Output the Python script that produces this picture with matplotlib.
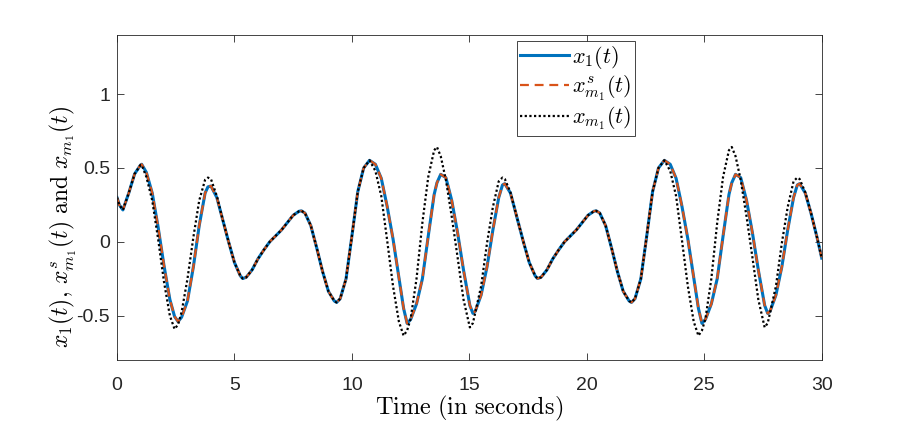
#!/usr/bin/env python3
"""Recreate the x1 / x_m1 tracking response chart."""

import matplotlib.pyplot as plt

# time samples (s)
T = [0.0, 0.1, 0.25, 0.5, 0.75, 1.0, 1.05, 1.25, 1.5, 1.75, 2.0, 2.25, 2.45, 2.6, 2.75,
     3.0, 3.25, 3.5, 3.75, 3.87, 4.0, 4.25, 4.5, 4.75, 5.0, 5.25, 5.35, 5.5, 5.75,
     6.0, 6.25, 6.5, 6.75, 7.0, 7.25, 7.5, 7.75, 7.85, 8.0, 8.25, 8.5, 8.75, 9.0,
     9.25, 9.35, 9.5, 9.75, 10.0, 10.25, 10.5, 10.75, 11.0, 11.25, 11.5, 11.75,
     12.0, 12.2, 12.35, 12.5, 12.75, 13.0, 13.25, 13.5, 13.62, 13.78, 14.0, 14.25,
     14.5, 14.75, 15.02, 15.15, 15.25, 15.5, 15.75, 16.0, 16.25, 16.41, 16.51, 16.75,
     17.05, 17.3, 17.55, 17.8, 17.9, 18.05, 18.3, 18.55, 18.8, 19.05, 19.3, 19.55,
     19.8, 20.05, 20.3, 20.4, 20.55, 20.8, 21.05, 21.3, 21.55, 21.8, 21.9, 22.05,
     22.3, 22.55, 22.8, 23.05, 23.3, 23.55, 23.8, 24.05, 24.3, 24.55, 24.75, 24.9,
     25.05, 25.3, 25.55, 25.8, 26.05, 26.17, 26.33, 26.55, 26.8, 27.05, 27.3, 27.57,
     27.7, 27.8, 28.05, 28.3, 28.55, 28.8, 28.96, 29.06, 29.3, 29.55, 29.8, 30.0]

# x1(t), solid blue
X1 = [0.30, 0.25, 0.216, 0.33, 0.46, 0.52, 0.525, 0.47, 0.33, 0.10, -0.16, -0.39, -0.505, -0.54, -0.51,
      -0.40, -0.17, 0.11, 0.33, 0.372, 0.378, 0.30, 0.15, 0.0, -0.14, -0.23, -0.248, -0.24, -0.19,
      -0.115, -0.055, 0.0, 0.04, 0.08, 0.13, 0.18, 0.207, 0.21, 0.195, 0.11, -0.04, -0.20, -0.335,
      -0.40, -0.41, -0.385, -0.25, 0.04, 0.34, 0.50, 0.552, 0.525, 0.43, 0.24, 0.02,
      -0.24, -0.45, -0.552, -0.525, -0.42, -0.25, 0.04, 0.32, 0.40, 0.457, 0.435, 0.28,
      0.06, -0.19, -0.43, -0.484, -0.47, -0.36, -0.17, 0.08, 0.30, 0.385, 0.394, 0.33,
      0.15, 0.0, -0.14, -0.23, -0.248, -0.24, -0.19, -0.115, -0.055, 0.0, 0.04, 0.08,
      0.13, 0.18, 0.207, 0.21, 0.195, 0.11, -0.04, -0.20, -0.335, -0.40, -0.41, -0.385,
      -0.25, 0.04, 0.34, 0.50, 0.552, 0.525, 0.43, 0.24, 0.02, -0.24, -0.45, -0.552,
      -0.525, -0.42, -0.25, 0.04, 0.32, 0.40, 0.457, 0.435, 0.28, 0.06, -0.19, -0.43,
      -0.484, -0.47, -0.36, -0.17, 0.08, 0.30, 0.385, 0.394, 0.33, 0.19, 0.03, -0.11]

# x^s_m1(t), dashed orange: lies on top of x1(t) in the picture
XS_M1 = list(X1)

# x_m1(t), dotted black
XM1 = [0.30, 0.25, 0.216, 0.33, 0.46, 0.52, 0.52, 0.44, 0.28, 0.02, -0.27, -0.50, -0.59, -0.56, -0.475,
       -0.25, 0.03, 0.28, 0.42, 0.435, 0.425, 0.31, 0.15, 0.0, -0.14, -0.23, -0.248, -0.24, -0.19,
       -0.115, -0.055, 0.0, 0.04, 0.08, 0.13, 0.18, 0.207, 0.21, 0.195, 0.11, -0.04, -0.20, -0.335,
       -0.40, -0.41, -0.385, -0.25, 0.04, 0.34, 0.50, 0.552, 0.48, 0.31, 0.01, -0.30,
       -0.54, -0.635, -0.60, -0.52, -0.25, 0.13, 0.44, 0.62, 0.642, 0.58, 0.42, 0.17,
       -0.106, -0.39, -0.579, -0.55, -0.48, -0.30, -0.01, 0.235, 0.41, 0.435, 0.425, 0.335,
       0.15, 0.0, -0.14, -0.23, -0.248, -0.24, -0.19, -0.115, -0.055, 0.0, 0.04, 0.08,
       0.13, 0.18, 0.207, 0.21, 0.195, 0.11, -0.04, -0.20, -0.335, -0.40, -0.41, -0.385,
       -0.25, 0.04, 0.34, 0.50, 0.552, 0.48, 0.31, 0.01, -0.30, -0.54, -0.635, -0.60,
       -0.52, -0.25, 0.13, 0.44, 0.62, 0.642, 0.58, 0.42, 0.17, -0.106, -0.39, -0.579,
       -0.55, -0.48, -0.30, -0.01, 0.235, 0.41, 0.435, 0.425, 0.335, 0.19, 0.03, -0.11]

X_TICKS = [0, 5, 10, 15, 20, 25, 30]
Y_TICKS = [-0.5, 0, 0.5, 1]
Y_TICK_LABELS = ["-0.5", "0", "0.5", "1"]

plt.rcParams["mathtext.fontset"] = "cm"
plt.rcParams["font.family"] = ["Liberation Sans", "DejaVu Sans"]

AX_COLOR = "#262626"

fig = plt.figure(figsize=(9.07, 4.38), dpi=100)
ax = fig.add_axes([0.129, 0.178, 0.777, 0.742])

ax.plot(T, X1, color="#0072BD", linewidth=2.2, label=r"$x_1(t)$")
ax.plot(T, XS_M1, color="#D95319", linewidth=1.6, dashes=(4.0, 2.6), label=r"$x^s_{m_1}(t)$")
ax.plot(T, XM1, color="black", linewidth=1.6, linestyle=(0, (1.0, 1.1)), label=r"$x_{m_1}(t)$")

ax.set_xlim(0, 30)
ax.set_ylim(-0.8, 1.4)
ax.set_xticks(X_TICKS)
ax.set_yticks(Y_TICKS)
ax.set_yticklabels(Y_TICK_LABELS)
ax.tick_params(direction="in", length=5, width=0.6, colors=AX_COLOR, labelsize=14,
               top=True, right=True)
ax.tick_params(axis="x", pad=12)
ax.tick_params(axis="y", pad=5)
for spine in ax.spines.values():
    spine.set_color(AX_COLOR)
    spine.set_linewidth(0.6)

ax.set_xlabel(r"$\mathrm{Time\ (in\ seconds)}$", fontsize=17.5, labelpad=0)
ax.set_ylabel(r"$x_1(t),\,x^s_{m_1}(t)\ \mathrm{and}\ x_{m_1}(t)$", fontsize=17)
# MATLAB puts this label a little lower than the middle of the axis
ax.yaxis.set_label_coords(-0.054, 0.41)

leg = ax.legend(loc="upper left", bbox_to_anchor=(0.567, 0.982), fontsize=16,
                frameon=True, fancybox=False, framealpha=1, edgecolor=AX_COLOR,
                handlelength=2.2, handletextpad=0.15, borderpad=0.15, labelspacing=0.1,
                borderaxespad=0)
leg.get_frame().set_linewidth(0.6)

fig.savefig("out.png", dpi=100)
print("Saved out.png")
